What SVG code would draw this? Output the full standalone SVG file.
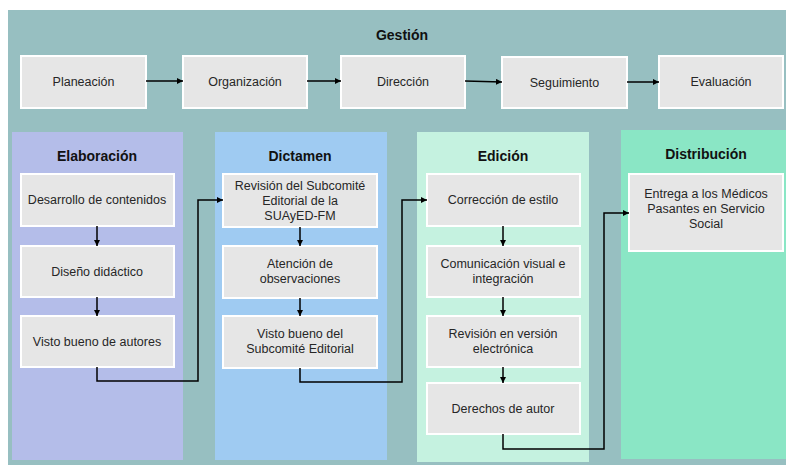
<svg xmlns="http://www.w3.org/2000/svg" width="786" height="465" viewBox="0 0 786 465">
<style>
.box{fill:#E6E6E6;stroke:#FFFFFF;stroke-width:2}
.t{font-family:"Liberation Sans",Arial,sans-serif;font-size:12.5px;fill:#262626;text-anchor:middle}
.h{font-family:"Liberation Sans",Arial,sans-serif;font-size:14px;font-weight:bold;fill:#111;text-anchor:middle}
.c{fill:none;stroke:#000;stroke-width:1.5}
</style>
<defs>
<marker id="ah" markerUnits="userSpaceOnUse" markerWidth="8" markerHeight="8" refX="6" refY="3" orient="auto">
<path d="M0,0 L6,3 L0,6 Z" fill="#000"/>
</marker>
</defs>
<rect x="8" y="10" width="778" height="455" fill="#97BFC1"/>
<g id="col-elaboracion"><rect x="12" y="132" width="171" height="328" fill="#B4BDE9"/><text class="h" x="97" y="161">Elaboración</text></g>
<g id="col-dictamen"><rect x="215" y="132" width="172" height="328" fill="#9FCBF2"/><text class="h" x="300" y="161">Dictamen</text></g>
<g id="col-edicion"><rect x="417" y="132" width="172" height="330" fill="#C5F2E0"/><text class="h" x="503" y="161">Edición</text></g>
<g id="col-distribucion"><rect x="621" y="130" width="165" height="329" fill="#8AE6C5"/><text class="h" x="706" y="159">Distribución</text></g>
<g id="gestion"><text class="h" x="402" y="40">Gestión</text></g>
<g id="planeacion"><rect class="box" x="21" y="56" width="125" height="52"/><text class="t" x="83.5" y="86">Planeación</text></g>
<g id="organizacion"><rect class="box" x="183" y="56" width="124" height="52"/><text class="t" x="245" y="86">Organización</text></g>
<g id="direccion"><rect class="box" x="341" y="56" width="124" height="52"/><text class="t" x="403" y="86">Dirección</text></g>
<g id="seguimiento"><rect class="box" x="502" y="57" width="125" height="51"/><text class="t" x="564.5" y="87">Seguimiento</text></g>
<g id="evaluacion"><rect class="box" x="659" y="56" width="124" height="52"/><text class="t" x="721" y="86">Evaluación</text></g>
<g id="desarrollo"><rect class="box" x="21" y="174" width="153" height="52"/><text class="t" x="97" y="204">Desarrollo de contenidos</text></g>
<g id="diseno"><rect class="box" x="21" y="246" width="153" height="51"/><text class="t" x="97" y="276">Diseño didáctico</text></g>
<g id="visto-autores"><rect class="box" x="21" y="316" width="153" height="51"/><text class="t" x="97" y="346">Visto bueno de autores</text></g>
<g id="revision-subcomite"><rect class="box" x="223" y="174" width="154" height="53"/><text class="t" x="300" y="190">Revisión del Subcomité</text><text class="t" x="300" y="205">Editorial de la</text><text class="t" x="300" y="220">SUAyED-FM</text></g>
<g id="atencion"><rect class="box" x="223" y="246" width="154" height="52"/><text class="t" x="300" y="268">Atención de</text><text class="t" x="300" y="283">observaciones</text></g>
<g id="visto-subcomite"><rect class="box" x="223" y="316" width="154" height="52"/><text class="t" x="300" y="338">Visto bueno del</text><text class="t" x="300" y="353">Subcomité Editorial</text></g>
<g id="correccion"><rect class="box" x="427" y="174" width="153" height="52"/><text class="t" x="503" y="204">Corrección de estilo</text></g>
<g id="comunicacion"><rect class="box" x="427" y="246" width="153" height="51"/><text class="t" x="503" y="268">Comunicación visual e</text><text class="t" x="503" y="283">integración</text></g>
<g id="revision-electronica"><rect class="box" x="427" y="316" width="153" height="51"/><text class="t" x="503" y="338">Revisión en versión</text><text class="t" x="503" y="353">electrónica</text></g>
<g id="derechos"><rect class="box" x="427" y="383" width="153" height="51"/><text class="t" x="503" y="413">Derechos de autor</text></g>
<g id="entrega"><rect class="box" x="629" y="174" width="154" height="77"/><text class="t" x="706" y="198">Entrega a los Médicos</text><text class="t" x="706" y="213">Pasantes en Servicio</text><text class="t" x="706" y="228">Social</text></g>
<g id="connectors">
<line class="c" x1="146" y1="81" x2="183" y2="81" marker-end="url(#ah)"/>
<line class="c" x1="307" y1="81" x2="341" y2="81" marker-end="url(#ah)"/>
<line class="c" x1="465" y1="81" x2="502" y2="82" marker-end="url(#ah)"/>
<line class="c" x1="627" y1="82" x2="659" y2="82" marker-end="url(#ah)"/>
<line class="c" x1="97" y1="226" x2="97" y2="246" marker-end="url(#ah)"/>
<line class="c" x1="97" y1="297" x2="97" y2="316" marker-end="url(#ah)"/>
<line class="c" x1="300" y1="227" x2="300" y2="246" marker-end="url(#ah)"/>
<line class="c" x1="300" y1="298" x2="300" y2="316" marker-end="url(#ah)"/>
<line class="c" x1="503" y1="226" x2="503" y2="246" marker-end="url(#ah)"/>
<line class="c" x1="503" y1="297" x2="503" y2="316" marker-end="url(#ah)"/>
<line class="c" x1="503" y1="367" x2="503" y2="383" marker-end="url(#ah)"/>
<path class="c" d="M97,367 V381 H198 V200 H223" marker-end="url(#ah)"/>
<path class="c" d="M300,368 V382 H402 V200 H427" marker-end="url(#ah)"/>
<path class="c" d="M503,434 V449 H604 V213 H629" marker-end="url(#ah)"/>
</g>
</svg>
